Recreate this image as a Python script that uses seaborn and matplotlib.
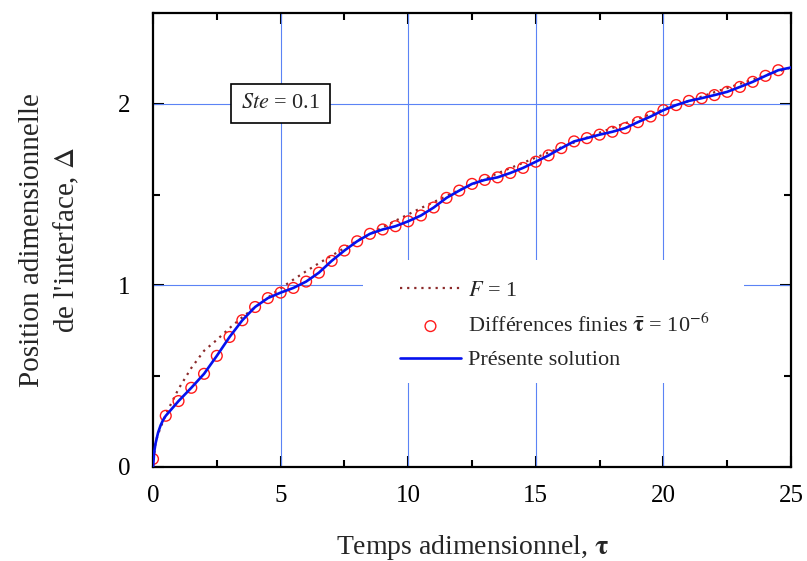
import numpy as np
import pandas as pd
import seaborn as sns
import matplotlib.pyplot as plt
from matplotlib.ticker import MultipleLocator
from matplotlib.patches import Rectangle

# differences finies (markers), every 0.5 in tau
tau_fd = [0, 0.5, 1, 1.5, 2, 2.5, 3, 3.5, 4, 4.5, 5, 5.5, 6, 6.5, 7, 7.5, 8, 8.5, 9, 9.5,
          10, 10.5, 11, 11.5, 12, 12.5, 13, 13.5, 14, 14.5, 15, 15.5, 16, 16.5, 17, 17.5,
          18, 18.5, 19, 19.5, 20, 20.5, 21, 21.5, 22, 22.5, 23, 23.5, 24, 24.5]
delta_fd = [0.044, 0.282, 0.363, 0.436, 0.513, 0.612, 0.716, 0.808, 0.881, 0.930,
            0.960, 0.986, 1.021, 1.070, 1.135, 1.192, 1.243, 1.284, 1.308, 1.326,
            1.353, 1.385, 1.429, 1.482, 1.522, 1.559, 1.581, 1.595, 1.619, 1.647,
            1.681, 1.716, 1.756, 1.793, 1.811, 1.830, 1.846, 1.866, 1.899, 1.930,
            1.965, 1.993, 2.016, 2.031, 2.048, 2.066, 2.093, 2.121, 2.154, 2.185]

# presente solution: start of the curve, then through the FD points, then the end
tau_start = [0, 0.05, 0.1, 0.2, 0.3, 0.4]
delta_start = [0, 0.085, 0.13, 0.19, 0.23, 0.26]
tau_end = [25]
delta_end = [2.20]

# F = 1
tau_f1 = [0, 0.1, 0.25, 0.5, 1, 1.5, 2, 2.5, 3, 3.5, 4, 4.5, 5, 5.5, 6, 6.5, 7, 7.5, 8,
          8.5, 9, 9.5, 10, 10.5, 11, 11.5, 12, 12.5, 13, 13.5, 14, 14.5, 15, 15.5, 16,
          16.5, 17, 17.5, 18, 18.5, 19, 19.5, 20, 20.5, 21, 21.5, 22, 22.5, 23, 23.5,
          24, 24.5, 25]
delta_f1 = [0, 0.14, 0.20, 0.29, 0.43, 0.545, 0.64, 0.70, 0.765, 0.825, 0.88, 0.933,
            0.984, 1.032, 1.078, 1.122, 1.164, 1.205, 1.245, 1.283, 1.320, 1.356, 1.391,
            1.426, 1.459, 1.492, 1.524, 1.556, 1.586, 1.617, 1.646, 1.675, 1.704, 1.732,
            1.760, 1.787, 1.814, 1.841, 1.867, 1.893, 1.918, 1.943, 1.968, 1.992, 2.016,
            2.040, 2.064, 2.087, 2.110, 2.133, 2.156, 2.178, 2.200]

sns.set_theme(style='ticks')
plt.rcParams['font.family'] = ['Liberation Serif', 'DejaVu Serif']
plt.rcParams['mathtext.fontset'] = 'stix'

df_fd = pd.DataFrame({'tau': tau_fd, 'delta': delta_fd})
df_line = pd.DataFrame({'tau': tau_start + tau_fd[1:] + tau_end,
                        'delta': delta_start + delta_fd[1:] + delta_end})
df_f1 = pd.DataFrame({'tau': tau_f1, 'delta': delta_f1})

fig = plt.figure(figsize=(8.07, 5.61), dpi=100)
ax = fig.add_axes([0.1896, 0.1676, 0.7906, 0.8092])

for v in [5, 10, 15, 20]:
    ax.axvline(v, color='#5b83f5', lw=0.8, zorder=1)
for v in [1, 2]:
    ax.axhline(v, color='#5b83f5', lw=0.8, zorder=1)

# white area behind the legend, hides the grid
ax.add_patch(Rectangle((0.329, 0.185), 0.597, 0.271, transform=ax.transAxes,
                       facecolor='white', edgecolor='none', zorder=2))

sns.lineplot(data=df_f1, x='tau', y='delta', ax=ax, color='#8b2a2a', lw=1.6,
             linestyle=(0, (1, 2.2)), label='$F$ = 1', zorder=3)
sns.scatterplot(data=df_fd, x='tau', y='delta', ax=ax, marker='o', s=60,
                facecolor='none', edgecolor='#ff1a1a', linewidth=1.0,
                label=r'Différences finies $\bar{\mathbf{\tau}}$ = 10$^{-6}$', zorder=4)
sns.lineplot(data=df_line, x='tau', y='delta', ax=ax, color='#0511ee', lw=1.9,
             label='Présente solution', zorder=5, sort=False)

ax.set_xlim(0, 25)
ax.set_ylim(0, 2.5)
ax.xaxis.set_major_locator(MultipleLocator(5))
ax.xaxis.set_minor_locator(MultipleLocator(2.5))
ax.yaxis.set_major_locator(MultipleLocator(1))
ax.yaxis.set_minor_locator(MultipleLocator(0.5))
ax.tick_params(which='both', direction='in', top=True, right=True, width=1.5,
               labelsize=18, colors='black')
ax.tick_params(which='major', length=8)
ax.tick_params(which='minor', length=5)
ax.tick_params(axis='x', which='major', pad=13)
ax.tick_params(axis='y', which='major', pad=16)
for s in ax.spines.values():
    s.set_linewidth(1.6)
    s.set_color('black')

ax.set_xlabel('Temps adimensionnel, $\\mathbf{\\tau}$', fontsize=20, labelpad=19)
ax.set_ylabel("Position adimensionnelle\nde l'interface, $\\Delta$", fontsize=21,
              labelpad=27, linespacing=1.3)

ax.text(5, 2.0, '$Ste$ = 0.1', ha='center', va='center', fontsize=16, zorder=6,
        bbox=dict(boxstyle='square,pad=0.45', facecolor='white', edgecolor='black', lw=1.2))

leg = ax.legend(loc='center left', bbox_to_anchor=(0.387, 0.312), frameon=False,
                prop={'size': 16}, handlelength=2.75, handletextpad=0.3,
                labelspacing=0.58, borderpad=0, borderaxespad=0)
leg.set_zorder(6)

fig.savefig('out.png', dpi=100)
